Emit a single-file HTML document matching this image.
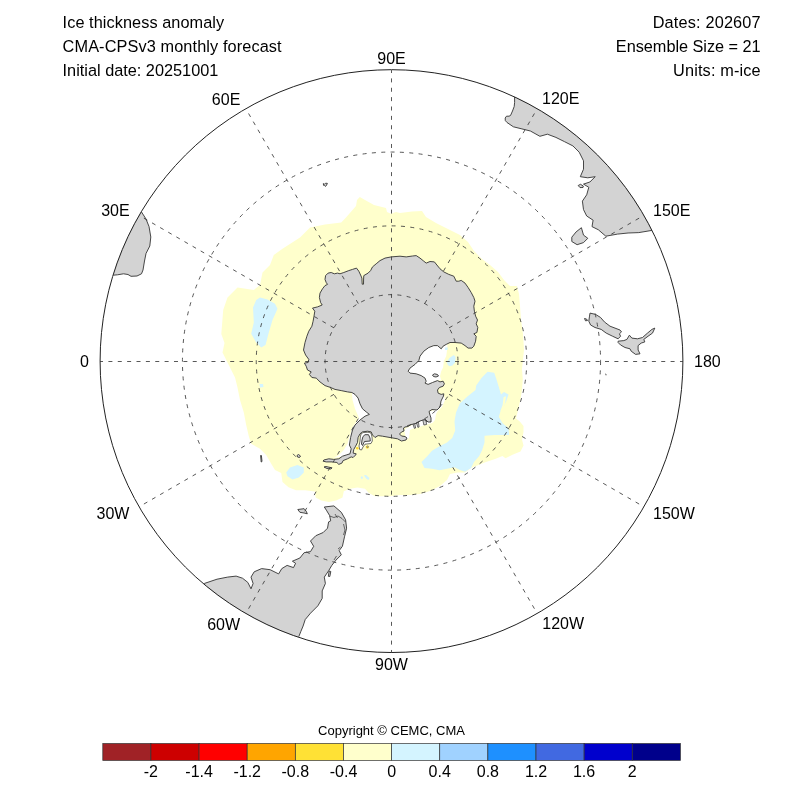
<!DOCTYPE html>
<html><head><meta charset="utf-8"><title>Ice thickness anomaly</title>
<style>html,body{margin:0;padding:0;background:#fff}body{width:800px;height:800px;position:relative;overflow:hidden}</style></head>
<body>
<svg width="800" height="800" viewBox="0 0 800 800" style="position:absolute;left:0;top:0">
<defs><clipPath id="clip"><circle cx="391.5" cy="361.1" r="291.75"/></clipPath></defs>
<g clip-path="url(#clip)">
<path d="M359.8,196.9 L365.0,200.0 L374.0,205.0 L386.0,208.0 L387.0,212.0 L391.0,213.8 L396.0,212.0 L400.0,213.0 L412.0,211.5 L422.0,211.0 L426.0,217.0 L436.0,223.0 L448.0,229.0 L460.0,235.0 L468.0,242.0 L474.0,251.0 L482.0,259.0 L490.0,265.0 L498.0,272.0 L504.0,280.0 L510.0,286.0 L517.0,286.0 L519.0,294.0 L520.0,306.0 L521.0,320.0 L523.0,334.0 L524.0,350.0 L522.8,361.5 L522.0,369.0 L522.8,379.5 L522.0,390.0 L520.5,399.0 L518.2,409.5 L516.0,418.5 L519.8,421.5 L523.5,426.0 L523.5,432.0 L522.0,439.5 L523.5,445.5 L520.5,451.5 L513.0,454.5 L505.5,458.2 L502.5,456.0 L495.0,459.0 L486.0,462.0 L478.5,465.0 L471.0,468.0 L465.0,472.5 L457.5,472.5 L450.0,474.0 L447.0,480.0 L440.0,486.0 L430.0,491.0 L420.0,494.0 L410.0,495.0 L400.0,495.0 L390.0,496.2 L375.0,496.2 L368.8,493.1 L365.0,488.8 L357.5,487.5 L350.0,488.8 L343.8,491.2 L342.5,497.5 L336.2,500.6 L328.8,501.9 L321.2,500.6 L315.6,497.5 L315.0,491.5 L305.0,490.2 L296.0,490.2 L288.5,487.2 L282.5,482.0 L281.2,473.0 L275.0,470.0 L271.2,463.8 L266.2,455.0 L260.0,448.8 L251.2,443.8 L248.8,436.2 L246.2,425.0 L243.8,412.5 L240.0,400.0 L237.5,387.5 L235.0,377.5 L230.0,367.5 L225.0,357.5 L222.5,352.5 L224.5,343.0 L221.3,334.0 L223.2,310.0 L227.5,297.5 L237.5,287.5 L253.8,290.0 L260.0,285.0 L262.5,272.5 L270.0,265.0 L273.8,255.0 L282.5,248.8 L300.0,237.5 L310.0,227.5 L325.0,224.5 L341.2,222.5 L346.0,217.5 L356.0,206.0 L357.0,200.0Z" fill="#ffffcc"/>
<path d="M447.5,344.4 L446.9,351.2 L446.2,356.2 L443.8,361.2 L443.1,367.5 L441.2,371.2 L440.0,376.2 L441.2,380.0 L437.5,380.6 L432.5,382.5 L428.1,384.4 L425.0,383.1 L426.2,381.2 L425.0,378.1 L421.2,375.6 L416.2,373.8 L410.0,373.1 L408.1,371.2 L410.0,368.1 L415.0,364.4 L418.8,360.6 L420.0,356.2 L423.8,351.2 L428.8,347.5 L433.8,345.6 L437.5,345.6 L441.2,348.8 L443.1,346.2 L446.2,344.4Z" fill="#fff"/>
<path d="M443.8,393.8 L445.0,400.0 L442.0,407.0 L437.5,411.2 L436.0,414.0 L435.0,420.0 L432.5,423.1 L425.0,425.0 L418.8,426.9 L412.5,428.8 L410.0,430.0 L409.0,438.0 L406.0,440.0 L405.5,436.5 L404.5,431.0 L405.5,428.5 L409.0,427.0 L414.0,424.0 L423.0,420.0 L430.0,420.5 L430.0,415.0 L429.4,411.5 L434.4,410.0 L438.8,408.1 L440.6,405.0 L441.2,400.0Z" fill="#fff"/>
<path d="M351.9,392.5 L352.5,400.0 L355.0,408.8 L358.8,417.5 L357.0,421.0 L352.0,428.0 L350.0,435.0 L347.5,443.8 L343.8,450.0 L338.8,455.0 L333.8,458.0 L340.0,457.0 L346.2,455.0 L350.0,453.8 L351.2,448.8 L349.4,445.0 L350.6,437.5 L352.5,430.0 L355.0,425.0 L360.0,420.0 L365.0,416.2 L369.4,414.4 L366.2,411.9 L362.5,408.8 L360.0,403.8 L358.1,398.1 L355.0,394.4Z" fill="#fff"/>
<path d="M487.5,371.7 L494.2,372.8 L496.5,379.5 L498.8,387.0 L501.0,394.5 L504.0,392.0 L508.5,394.5 L506.0,402.0 L502.5,408.0 L501.0,409.5 L498.8,417.0 L502.5,423.0 L508.5,428.2 L509.2,435.0 L504.0,435.0 L495.0,435.0 L484.5,435.8 L484.5,442.5 L482.2,450.0 L479.2,456.0 L474.0,462.0 L471.0,468.0 L465.0,471.8 L460.5,470.2 L454.5,467.2 L447.0,468.8 L439.5,470.2 L432.0,468.8 L424.5,468.0 L421.5,462.0 L427.5,456.0 L432.0,450.8 L439.5,446.2 L447.0,442.5 L452.2,438.0 L455.2,430.5 L454.5,421.5 L456.0,412.5 L459.8,403.5 L468.0,396.0 L475.5,390.0 L476.2,385.5 L481.5,378.0Z" fill="#d4f4ff"/>
<path d="M260.0,297.5 L267.5,299.5 L275.0,303.8 L277.5,308.8 L272.5,320.0 L268.8,332.5 L265.5,345.0 L261.2,347.5 L256.2,342.5 L251.2,333.8 L253.8,322.5 L253.0,307.5 L256.2,300.0Z" fill="#d4f4ff"/>
<path d="M286.2,472.5 L290.0,467.5 L297.5,465.0 L303.8,467.5 L303.8,472.5 L298.8,477.5 L292.5,479.5 L287.5,476.2Z" fill="#d4f4ff"/>
<path d="M446.9,361.9 L449.4,358.1 L453.8,355.0 L455.6,356.9 L455.0,362.5 L452.5,365.6 L449.4,366.2 L447.5,364.4Z" fill="#d4f4ff"/>
<path d="M259.5,384.0 L263.0,384.0 L263.5,387.0 L260.0,387.5Z" fill="#d4f4ff"/>
<path d="M445.0,347.5 L448.0,347.5 L447.5,350.0 L445.0,350.0Z" fill="#d4f4ff"/>
<path d="M360.5,477.5 L362.0,476.0 L363.0,477.5 L362.0,479.5Z" fill="#d4f4ff"/>
<path d="M364.0,475.2 L366.0,475.0 L369.5,478.0 L368.5,480.0 L366.5,479.0 L365.0,477.0Z" fill="#d4f4ff"/>
<path d="M503.6,397 L506,396.2 L505.2,403 L503,408.5 L501.6,412 L500.6,410.5 L502.6,405Z M500.2,414.5 L502.2,414 L503.4,419.5 L506,424 L504.4,424.6 L501.4,420Z" fill="#ffffcc"/>
<path d="M400.0,256.2 L391.2,256.9 L385.0,258.1 L380.0,260.6 L376.2,263.8 L372.5,266.9 L370.6,270.6 L368.1,273.1 L363.8,275.6 L363.6,279.0 L363.5,284.2 L362.2,284.2 L361.9,278.1 L360.6,275.0 L358.8,271.2 L356.5,268.1 L352.5,269.4 L348.8,270.6 L343.8,272.5 L340.0,273.8 L337.5,273.1 L334.4,273.8 L331.2,272.5 L328.1,273.1 L325.6,275.6 L325.0,279.4 L326.2,282.5 L327.5,284.4 L325.0,285.6 L322.5,288.8 L320.0,293.1 L319.4,297.5 L320.6,302.5 L322.2,305.0 L317.5,306.9 L312.5,308.1 L314.8,311.2 L314.0,316.2 L313.1,321.2 L311.9,326.2 L308.8,331.2 L306.9,336.2 L305.0,342.5 L303.5,350.0 L305.6,355.0 L308.8,359.4 L308.1,362.5 L304.4,363.1 L306.2,366.2 L307.5,370.0 L311.2,371.9 L309.4,374.4 L311.9,377.5 L316.2,378.1 L320.0,381.9 L325.0,385.6 L330.6,387.5 L335.0,389.4 L341.2,390.6 L347.5,391.9 L351.9,392.5 L355.0,394.4 L358.1,398.1 L360.0,403.8 L362.5,408.8 L366.2,411.9 L369.4,414.4 L365.0,416.2 L360.0,420.0 L355.0,425.0 L352.5,430.0 L350.6,437.5 L349.4,445.0 L351.2,448.8 L350.0,453.8 L346.2,455.0 L342.5,456.2 L338.8,458.8 L333.8,459.4 L328.8,458.8 L323.8,460.0 L323.1,461.2 L326.2,461.9 L332.5,461.9 L336.9,462.5 L338.8,464.4 L341.9,463.1 L343.1,460.6 L347.5,458.8 L351.2,456.9 L353.1,457.5 L355.6,455.0 L356.2,453.8 L353.1,453.1 L353.8,449.4 L355.6,446.2 L357.5,442.5 L358.1,437.5 L360.0,433.8 L362.5,431.9 L367.5,431.2 L371.2,431.9 L372.5,435.0 L375.0,437.5 L378.1,435.6 L382.5,436.2 L390.0,437.5 L397.5,438.8 L401.5,441.0 L406.0,440.0 L407.0,438.0 L405.0,436.5 L401.5,436.0 L399.5,434.0 L401.5,432.0 L404.0,431.0 L403.5,428.0 L405.0,427.0 L408.0,426.5 L411.0,424.5 L414.0,424.0 L417.0,423.0 L420.0,421.0 L423.0,420.0 L426.0,420.0 L428.0,422.0 L431.0,422.0 L431.0,418.0 L430.0,415.0 L429.0,411.5 L432.0,409.5 L437.0,410.0 L440.0,407.0 L441.0,401.0 L443.5,396.0 L443.8,393.8 L441.2,394.4 L438.1,393.1 L437.5,390.0 L439.4,387.5 L443.1,386.2 L444.4,383.8 L443.1,381.2 L440.0,381.9 L437.5,380.6 L432.5,382.5 L428.1,384.4 L425.0,383.1 L426.2,381.2 L425.0,378.1 L421.2,375.6 L416.2,373.8 L410.0,373.1 L408.1,371.2 L410.0,368.1 L415.0,364.4 L418.8,360.6 L420.0,356.2 L423.8,351.2 L428.8,347.5 L433.8,345.6 L437.5,345.6 L441.2,348.8 L443.1,346.2 L446.2,344.4 L450.0,342.5 L455.0,342.5 L461.2,343.1 L465.0,345.6 L468.1,348.1 L471.9,348.1 L473.8,346.2 L475.6,341.2 L476.2,336.2 L473.8,333.8 L476.9,332.5 L477.8,327.5 L476.2,323.8 L477.5,320.0 L475.6,316.2 L474.4,311.2 L473.8,306.2 L475.0,301.2 L473.8,297.5 L471.2,292.5 L468.1,287.5 L465.0,283.1 L461.2,280.4 L458.8,281.2 L456.2,281.2 L453.8,276.2 L448.8,274.4 L443.8,271.9 L440.0,268.8 L436.9,265.0 L434.4,261.9 L430.0,261.5 L426.2,263.1 L423.8,261.2 L420.0,258.1 L416.2,255.6 L412.5,256.0 L406.2,256.9Z" fill="#d3d3d3" stroke="#333" stroke-width="0.9" stroke-linejoin="round"/>
<path d="M361.0,434.0 L363.0,432.6 L368.0,432.2 L371.0,433.0 L372.0,437.0 L372.3,441.0 L371.0,443.5 L365.0,444.2 L363.0,447.0 L361.5,450.0 L359.7,449.5 L359.0,446.0 L360.0,441.0 L360.3,437.0Z" fill="#fff" stroke="#333" stroke-width="0.7"/>
<path d="M363.0,436.5 L365.0,434.7 L368.5,434.7 L370.0,438.0 L370.3,441.0 L364.5,441.5 L362.5,445.5 L361.5,444.0 L362.0,440.0Z" fill="#d3d3d3" stroke="#333" stroke-width="0.9" stroke-linejoin="round"/>
<path d="M432.5,375.0 L434.5,373.8 L437.5,374.5 L438.5,376.0 L436.0,377.0 L433.5,376.5Z" fill="#d3d3d3" stroke="#333" stroke-width="0.9" stroke-linejoin="round"/>
<path d="M141.2,211.5 L146.0,219.0 L149.0,226.5 L150.8,237.0 L149.8,246.0 L146.0,253.5 L144.5,261.0 L143.0,270.0 L141.5,273.8 L137.0,276.0 L131.0,276.3 L128.0,274.5 L123.5,273.8 L117.5,274.8 L113.3,275.2 L110.2,274.3 L113.9,263.1 L118.0,252.1 L122.6,241.3 L127.6,230.7 L133.0,220.3 L138.8,210.1Z" fill="#d3d3d3" stroke="none"/>
<path d="M141.2,211.5 L146.0,219.0 L149.0,226.5 L150.8,237.0 L149.8,246.0 L146.0,253.5 L144.5,261.0 L143.0,270.0 L141.5,273.8 L137.0,276.0 L131.0,276.3 L128.0,274.5 L123.5,273.8 L117.5,274.8 L113.3,275.2" fill="none" stroke="#333" stroke-width="0.9" stroke-linejoin="round"/>
<path d="M651.9,230.4 L638.8,232.6 L628.1,233.0 L617.5,234.1 L605.8,236.2 L598.4,229.8 L592.0,226.6 L593.1,220.2 L586.7,216.0 L583.5,209.6 L582.4,201.1 L586.7,194.8 L588.8,187.3 L583.5,184.1 L589.9,182.0 L595.2,176.7 L587.8,177.8 L580.3,176.7 L583.5,169.2 L583.5,160.8 L579.2,152.2 L572.9,145.9 L564.4,141.6 L555.9,137.4 L547.4,134.2 L539.9,136.3 L530.4,131.0 L521.9,128.9 L513.4,126.8 L507.0,122.5 L505.3,120.5 L505.2,118.0 L506.5,116.2 L509.0,116.2 L510.5,115.5 L512.5,111.0 L514.2,106.5 L514.6,102.5 L514.6,96.8 L515.8,94.2 L525.1,98.8 L534.3,103.6 L543.3,108.8 L552.1,114.3 L560.7,120.2 L569.1,126.3 L577.2,132.7 L585.2,139.4 L592.8,146.3 L600.3,153.5 L607.5,161.0 L614.4,168.8 L621.0,176.7 L627.4,184.9 L633.4,193.4 L639.2,202.0 L644.7,210.8 L649.8,219.8 L654.6,229.0Z" fill="#d3d3d3" stroke="none"/>
<path d="M514.6,96.8 L514.6,102.5 L514.2,106.5 L512.5,111.0 L510.5,115.5 L509.0,116.2 L506.5,116.2 L505.2,118.0 L505.3,120.5 L507.0,122.5 L513.4,126.8 L521.9,128.9 L530.4,131.0 L539.9,136.3 L547.4,134.2 L555.9,137.4 L564.4,141.6 L572.9,145.9 L579.2,152.2 L583.5,160.8 L583.5,169.2 L580.3,176.7 L587.8,177.8 L595.2,176.7 L589.9,182.0 L583.5,184.1 L588.8,187.3 L586.7,194.8 L582.4,201.1 L583.5,209.6 L586.7,216.0 L593.1,220.2 L592.0,226.6 L598.4,229.8 L605.8,236.2 L617.5,234.1 L628.1,233.0 L638.8,232.6 L651.9,230.4" fill="none" stroke="#333" stroke-width="0.9" stroke-linejoin="round"/>
<path d="M204.2,583.5 L217.0,579.2 L227.6,577.1 L236.1,576.1 L242.5,578.2 L247.8,582.4 L251.0,588.8 L253.1,583.5 L251.0,577.1 L254.2,571.8 L261.6,568.6 L270.1,569.7 L278.6,573.9 L281.8,568.6 L287.1,565.4 L293.5,567.6 L295.6,563.3 L292.4,561.2 L299.9,558.0 L304.1,552.7 L310.5,551.6 L313.7,546.3 L310.5,541.0 L315.8,535.7 L323.2,532.5 L327.5,528.2 L328.6,521.9 L330.7,520.8 L329.6,515.5 L326.4,510.2 L324.3,507.0 L333.9,505.9 L341.3,512.3 L345.6,519.8 L346.6,528.2 L344.5,536.8 L342.4,546.3 L339.2,550.6 L341.3,554.8 L336.0,560.1 L331.8,565.4 L328.6,570.8 L324.3,577.1 L325.4,583.5 L322.2,590.9 L322.2,598.4 L317.9,605.8 L310.5,613.2 L305.2,619.6 L303.1,626.0 L300.9,631.3 L298.8,636.6 L297.6,640.1 L287.2,636.4 L277.0,632.3 L266.9,627.8 L256.9,623.0 L247.2,617.7 L237.7,612.1 L228.4,606.2 L219.3,599.9 L210.5,593.3 L201.9,586.3Z" fill="#d3d3d3" stroke="none"/>
<path d="M204.2,583.5 L217.0,579.2 L227.6,577.1 L236.1,576.1 L242.5,578.2 L247.8,582.4 L251.0,588.8 L253.1,583.5 L251.0,577.1 L254.2,571.8 L261.6,568.6 L270.1,569.7 L278.6,573.9 L281.8,568.6 L287.1,565.4 L293.5,567.6 L295.6,563.3 L292.4,561.2 L299.9,558.0 L304.1,552.7 L310.5,551.6 L313.7,546.3 L310.5,541.0 L315.8,535.7 L323.2,532.5 L327.5,528.2 L328.6,521.9 L330.7,520.8 L329.6,515.5 L326.4,510.2 L324.3,507.0 L333.9,505.9 L341.3,512.3 L345.6,519.8 L346.6,528.2 L344.5,536.8 L342.4,546.3 L339.2,550.6 L341.3,554.8 L336.0,560.1 L331.8,565.4 L328.6,570.8 L324.3,577.1 L325.4,583.5 L322.2,590.9 L322.2,598.4 L317.9,605.8 L310.5,613.2 L305.2,619.6 L303.1,626.0 L300.9,631.3 L298.8,636.6" fill="none" stroke="#333" stroke-width="0.9" stroke-linejoin="round"/>
<path d="M413.0,424.3 L414.4,428.4 L415.6,428.0 L414.8,423.8Z" fill="#d3d3d3" stroke="#333" stroke-width="0.7"/>
<path d="M416.5,423.0 L417.9,427.4 L419.1,427.0 L418.5,422.4Z" fill="#d3d3d3" stroke="#333" stroke-width="0.7"/>
<path d="M422.8,420.0 L423.9,425.0 L426.6,424.5 L426.0,420.0Z" fill="#d3d3d3" stroke="#333" stroke-width="0.7"/>
<path d="M578.2,185.5 L580.5,184.3 L583.3,186.0 L583.0,187.5 L580.0,187.6Z" fill="#d3d3d3" stroke="#333" stroke-width="0.9" stroke-linejoin="round"/>
<path d="M581.4,227.7 L583.5,235.1 L587.8,238.3 L583.5,242.6 L577.1,244.7 L571.8,241.5 L571.8,237.2 L576.1,231.9Z" fill="#d3d3d3" stroke="#333" stroke-width="0.9" stroke-linejoin="round"/>
<path d="M590.0,313.1 L595.6,314.4 L600.6,317.5 L604.4,321.9 L610.0,326.2 L615.0,328.1 L620.0,330.0 L621.5,331.9 L619.4,333.8 L620.6,336.2 L618.1,338.8 L612.5,336.2 L606.2,333.1 L601.2,329.4 L595.0,327.5 L590.6,325.0 L588.8,321.2 L589.4,316.9Z" fill="#d3d3d3" stroke="#333" stroke-width="0.9" stroke-linejoin="round"/>
<path d="M618.1,341.2 L623.8,340.6 L626.9,339.4 L629.4,335.2 L631.9,338.1 L637.5,338.8 L642.5,337.5 L647.5,333.1 L651.9,329.4 L654.8,328.1 L652.5,333.1 L648.1,336.2 L643.8,339.4 L644.8,341.9 L641.2,343.1 L638.1,345.6 L638.1,350.0 L640.0,353.8 L635.6,354.4 L631.2,351.2 L630.0,348.8 L625.0,347.5 L620.6,345.0 L618.1,342.5Z" fill="#d3d3d3" stroke="#333" stroke-width="0.9" stroke-linejoin="round"/>
<path d="M584.5,318.5 L586.5,319.0 L587.5,320.5 L585.5,320.8Z" fill="#d3d3d3" stroke="#333" stroke-width="0.9" stroke-linejoin="round"/>
<path d="M297.8,509.5 L304.1,508.7 L306.2,511.2 L307.3,513.8 L304.1,513.0 L299.9,512.3Z" fill="#d3d3d3" stroke="#333" stroke-width="0.9" stroke-linejoin="round"/>
<path d="M329.2,571.0 L330.8,571.5 L329.8,576.5 L328.3,576.3Z" fill="#d3d3d3" stroke="#333" stroke-width="0.9" stroke-linejoin="round"/>
<path d="M260.6,455.5 L261.4,455.5 L262.0,461.5 L261.2,462.0Z" fill="#d3d3d3" stroke="#333" stroke-width="0.9" stroke-linejoin="round"/>
<path d="M297.0,455.5 L298.5,454.5 L300.5,456.0 L299.5,457.5 L297.5,457.0Z" fill="#d3d3d3" stroke="#333" stroke-width="0.9" stroke-linejoin="round"/>
<path d="M323.3,183.6 L324.6,184.2 L325.6,183.2 L327.4,183.4 L326.6,185.0 L325.6,186.4 L324.6,185.6 L323.6,185.4Z" fill="#d3d3d3" stroke="#333" stroke-width="0.9" stroke-linejoin="round"/>
<path d="M324.0,467.0 L326.0,466.5 L329.0,467.2 L332.0,467.8 L331.0,469.0 L327.0,468.5Z" fill="#d3d3d3" stroke="#333" stroke-width="0.9" stroke-linejoin="round"/>
<path d="M329.5,516 L334,517.5 L338,516 L342,518.5 L345.5,522 M335,514 L337.5,518 M343.5,524 L345,530 L343.5,535 M338,549 L340.5,547 M334,560 L336.5,556" fill="none" stroke="#333" stroke-width="0.7"/>
<circle cx="357.3" cy="448.3" r="1.3" fill="#ffd92f"/><circle cx="367.3" cy="447" r="1.6" fill="#ffd92f"/><circle cx="367.6" cy="446.8" r="0.8" fill="#d3d3d3" stroke="#333" stroke-width="0.4"/>
<path d="M605,373.3 L606.6,374.5 L606,375.8Z" fill="#333"/>
<circle cx="391.5" cy="361.1" r="66.45" fill="none" stroke="#3a3a3a" stroke-width="0.85" stroke-dasharray="4 5.37"/>
<circle cx="391.5" cy="361.1" r="135.24" fill="none" stroke="#3a3a3a" stroke-width="0.85" stroke-dasharray="4 5.37"/>
<circle cx="391.5" cy="361.1" r="209.06" fill="none" stroke="#3a3a3a" stroke-width="0.85" stroke-dasharray="4 5.37"/>
<path d="M391.5,361.5 L682.9,361.5" fill="none" stroke="#3a3a3a" stroke-width="0.85" stroke-dasharray="4 5.37" stroke-dashoffset="2"/>
<path d="M449.0,394.3 L643.9,506.8" fill="none" stroke="#3a3a3a" stroke-width="0.85" stroke-dasharray="4 5.37"/>
<path d="M424.7,418.6 L537.2,613.5" fill="none" stroke="#3a3a3a" stroke-width="0.85" stroke-dasharray="4 5.37"/>
<path d="M391.5,361.5 L391.5,652.9" fill="none" stroke="#3a3a3a" stroke-width="0.85" stroke-dasharray="4 5.37" stroke-dashoffset="2"/>
<path d="M358.3,418.6 L245.8,613.5" fill="none" stroke="#3a3a3a" stroke-width="0.85" stroke-dasharray="4 5.37"/>
<path d="M334.0,394.3 L139.1,506.8" fill="none" stroke="#3a3a3a" stroke-width="0.85" stroke-dasharray="4 5.37"/>
<path d="M391.5,361.5 L100.1,361.5" fill="none" stroke="#3a3a3a" stroke-width="0.85" stroke-dasharray="4 5.37" stroke-dashoffset="2"/>
<path d="M334.0,327.9 L139.1,215.4" fill="none" stroke="#3a3a3a" stroke-width="0.85" stroke-dasharray="4 5.37"/>
<path d="M358.3,303.6 L245.8,108.7" fill="none" stroke="#3a3a3a" stroke-width="0.85" stroke-dasharray="4 5.37"/>
<path d="M391.5,361.5 L391.5,70.1" fill="none" stroke="#3a3a3a" stroke-width="0.85" stroke-dasharray="4 5.37" stroke-dashoffset="2"/>
<path d="M424.7,303.6 L537.2,108.7" fill="none" stroke="#3a3a3a" stroke-width="0.85" stroke-dasharray="4 5.37"/>
<path d="M449.0,327.9 L643.9,215.4" fill="none" stroke="#3a3a3a" stroke-width="0.85" stroke-dasharray="4 5.37"/>
</g>
<circle cx="391.5" cy="361.1" r="291.4" fill="none" stroke="#222" stroke-width="1"/>
<text x="391.5" y="63.75" text-anchor="middle" font-family="Liberation Sans, sans-serif" font-size="16" fill="#000">90E</text>
<text x="240.3" y="104.6" text-anchor="end" font-family="Liberation Sans, sans-serif" font-size="16" fill="#000">60E</text>
<text x="129.6" y="215.6" text-anchor="end" font-family="Liberation Sans, sans-serif" font-size="16" fill="#000">30E</text>
<text x="88.9" y="366.9" text-anchor="end" font-family="Liberation Sans, sans-serif" font-size="16" fill="#000">0</text>
<text x="129.4" y="518.6" text-anchor="end" font-family="Liberation Sans, sans-serif" font-size="16" fill="#000">30W</text>
<text x="240.1" y="629.6" text-anchor="end" font-family="Liberation Sans, sans-serif" font-size="16" fill="#000">60W</text>
<text x="391.5" y="669.6" text-anchor="middle" font-family="Liberation Sans, sans-serif" font-size="16" fill="#000">90W</text>
<text x="542.3" y="629" text-anchor="start" font-family="Liberation Sans, sans-serif" font-size="16" fill="#000">120W</text>
<text x="653.0" y="518.6" text-anchor="start" font-family="Liberation Sans, sans-serif" font-size="16" fill="#000">150W</text>
<text x="694.0" y="366.9" text-anchor="start" font-family="Liberation Sans, sans-serif" font-size="16" fill="#000">180</text>
<text x="653.0" y="216" text-anchor="start" font-family="Liberation Sans, sans-serif" font-size="16" fill="#000">150E</text>
<text x="542.0" y="103.8" text-anchor="start" font-family="Liberation Sans, sans-serif" font-size="16" fill="#000">120E</text>
<text x="62.6" y="28" letter-spacing="0.07" font-family="Liberation Sans, sans-serif" font-size="16.3" fill="#000">Ice thickness anomaly</text>
<text x="62.6" y="51.8" letter-spacing="0.11" font-family="Liberation Sans, sans-serif" font-size="16.3" fill="#000">CMA-CPSv3 monthly forecast</text>
<text x="62.6" y="75.6" font-family="Liberation Sans, sans-serif" font-size="16.3" fill="#000">Initial date: 20251001</text>
<text x="760.8" y="28" text-anchor="end" letter-spacing="0.17" font-family="Liberation Sans, sans-serif" font-size="16.3" fill="#000">Dates: 202607</text>
<text x="760.6" y="51.8" text-anchor="end" letter-spacing="-0.03" font-family="Liberation Sans, sans-serif" font-size="16.3" fill="#000">Ensemble Size = 21</text>
<text x="760.8" y="75.6" text-anchor="end" letter-spacing="0.15" font-family="Liberation Sans, sans-serif" font-size="16.3" fill="#000">Units: m-ice</text>
<text x="391.5" y="735" text-anchor="middle" font-family="Liberation Sans, sans-serif" font-size="13" fill="#000">Copyright © CEMC, CMA</text>
<rect x="102.80" y="743.5" width="48.13" height="16.9" fill="#a02226" stroke="#333" stroke-width="0.7"/>
<rect x="150.93" y="743.5" width="48.13" height="16.9" fill="#cd0000" stroke="#333" stroke-width="0.7"/>
<rect x="199.07" y="743.5" width="48.13" height="16.9" fill="#ff0000" stroke="#333" stroke-width="0.7"/>
<rect x="247.20" y="743.5" width="48.13" height="16.9" fill="#ffa500" stroke="#333" stroke-width="0.7"/>
<rect x="295.33" y="743.5" width="48.13" height="16.9" fill="#ffe135" stroke="#333" stroke-width="0.7"/>
<rect x="343.47" y="743.5" width="48.13" height="16.9" fill="#ffffcc" stroke="#333" stroke-width="0.7"/>
<rect x="391.60" y="743.5" width="48.13" height="16.9" fill="#d4f4ff" stroke="#333" stroke-width="0.7"/>
<rect x="439.73" y="743.5" width="48.13" height="16.9" fill="#a0d2ff" stroke="#333" stroke-width="0.7"/>
<rect x="487.87" y="743.5" width="48.13" height="16.9" fill="#1e90ff" stroke="#333" stroke-width="0.7"/>
<rect x="536.00" y="743.5" width="48.13" height="16.9" fill="#4169e1" stroke="#333" stroke-width="0.7"/>
<rect x="584.13" y="743.5" width="48.13" height="16.9" fill="#0000cd" stroke="#333" stroke-width="0.7"/>
<rect x="632.27" y="743.5" width="48.13" height="16.9" fill="#00008b" stroke="#333" stroke-width="0.7"/>
<text x="150.9" y="776.8" text-anchor="middle" font-family="Liberation Sans, sans-serif" font-size="16" fill="#000">-2</text>
<text x="199.1" y="776.8" text-anchor="middle" font-family="Liberation Sans, sans-serif" font-size="16" fill="#000">-1.4</text>
<text x="247.2" y="776.8" text-anchor="middle" font-family="Liberation Sans, sans-serif" font-size="16" fill="#000">-1.2</text>
<text x="295.3" y="776.8" text-anchor="middle" font-family="Liberation Sans, sans-serif" font-size="16" fill="#000">-0.8</text>
<text x="343.5" y="776.8" text-anchor="middle" font-family="Liberation Sans, sans-serif" font-size="16" fill="#000">-0.4</text>
<text x="391.6" y="776.8" text-anchor="middle" font-family="Liberation Sans, sans-serif" font-size="16" fill="#000">0</text>
<text x="439.7" y="776.8" text-anchor="middle" font-family="Liberation Sans, sans-serif" font-size="16" fill="#000">0.4</text>
<text x="487.9" y="776.8" text-anchor="middle" font-family="Liberation Sans, sans-serif" font-size="16" fill="#000">0.8</text>
<text x="536.0" y="776.8" text-anchor="middle" font-family="Liberation Sans, sans-serif" font-size="16" fill="#000">1.2</text>
<text x="584.1" y="776.8" text-anchor="middle" font-family="Liberation Sans, sans-serif" font-size="16" fill="#000">1.6</text>
<text x="632.3" y="776.8" text-anchor="middle" font-family="Liberation Sans, sans-serif" font-size="16" fill="#000">2</text>
</svg>
</body></html>
